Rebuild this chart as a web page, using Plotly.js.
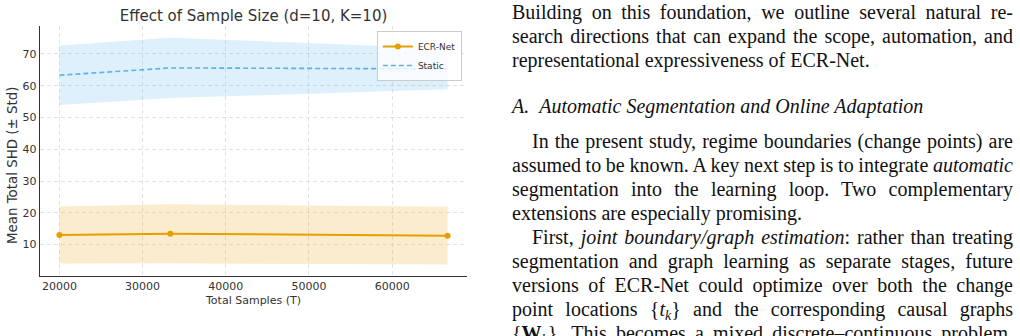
<!DOCTYPE html>
<html>
<head>
<meta charset="utf-8">
<script src="https://cdn.plot.ly/plotly-3.0.1.min.js"></script>
<style>
  html, body { margin: 0; padding: 0; background: #ffffff; }
  body { width: 1020px; height: 336px; position: relative; overflow: hidden; }
  #chart { position: absolute; left: 0; top: 0; width: 480px; height: 336px; }
  .txt { position: absolute; left: 512px; width: 501px; font-family: "Liberation Serif", "Times New Roman", serif;
         font-size: 20px; line-height: 24px; color: #111; white-space: normal; }
  .j { text-align: justify; text-align-last: justify; }
  .ind { text-indent: 20px; }
  .h { font-style: italic; }
  sub { font-size: 14px; line-height: 0; vertical-align: -4px; }
</style>
</head>
<body>
<div id="chart"></div>

<div class="txt j" style="top:0px">Building on this foundation, we outline several natural re-</div>
<div class="txt j" style="top:24px">search directions that can expand the scope, automation, and</div>
<div class="txt" style="top:48px">representational expressiveness of ECR-Net.</div>
<div class="txt h" style="top:94px">A.&ensp;Automatic Segmentation and Online Adaptation</div>
<div class="txt j ind" style="top:128.5px">In the present study, regime boundaries (change points) are</div>
<div class="txt j" style="top:152.5px; word-spacing:-1.5px">assumed to be known. A key next step is to integrate <i>automatic</i></div>
<div class="txt j" style="top:176.5px">segmentation into the learning loop. Two complementary</div>
<div class="txt" style="top:200.5px">extensions are especially promising.</div>
<div class="txt j ind" style="top:224.5px">First, <i>joint boundary/graph estimation</i>: rather than treating</div>
<div class="txt j" style="top:248.5px">segmentation and graph learning as separate stages, future</div>
<div class="txt j" style="top:272.5px">versions of ECR-Net could optimize over both the change</div>
<div class="txt j" style="top:296.5px">point locations {<i>t</i><sub><i>k</i></sub>} and the corresponding causal graphs</div>
<div class="txt j" style="top:320.5px">{<b>W</b><sub><i>k</i></sub>}. This becomes a mixed discrete–continuous problem,</div>

<script>
// ---- data ----
const xSamples   = [20000, 33333, 66667];
const ecrMean    = [13.0, 13.4, 12.8];
const ecrStd     = [9.0, 9.3, 9.1];
const staticMean = [63.3, 65.6, 65.3];
const staticStd  = [9.4, 9.5, 6.4];
const xTickVals  = [20000, 30000, 40000, 50000, 60000];
const yTickVals  = [10, 20, 30, 40, 50, 60, 70];
const seriesNames = ["ECR-Net", "Static"];

const ORANGE = "#E69F00";
const BLUE = "#56B4E9";

const add = (m, s, sign) => m.map((v, i) => v + sign * s[i]);

const traces = [
  { x: xSamples, y: add(staticMean, staticStd, -1), mode: "lines", line: { width: 0, color: BLUE },
    showlegend: false, hoverinfo: "skip" },
  { x: xSamples, y: add(staticMean, staticStd, 1), mode: "lines", line: { width: 0, color: BLUE },
    fill: "tonexty", fillcolor: "rgba(86,180,233,0.2)", showlegend: false, hoverinfo: "skip" },
  { x: xSamples, y: add(ecrMean, ecrStd, -1), mode: "lines", line: { width: 0, color: ORANGE },
    showlegend: false, hoverinfo: "skip" },
  { x: xSamples, y: add(ecrMean, ecrStd, 1), mode: "lines", line: { width: 0, color: ORANGE },
    fill: "tonexty", fillcolor: "rgba(230,159,0,0.2)", showlegend: false, hoverinfo: "skip" },
  { x: xSamples, y: ecrMean, name: seriesNames[0], mode: "lines+markers",
    line: { color: ORANGE, width: 2 }, marker: { color: ORANGE, size: 6 } },
  { x: xSamples, y: staticMean, name: seriesNames[1], mode: "lines",
    line: { color: BLUE, width: 1.6, dash: "5px,3px" } }
];

const FONT = "DejaVu Sans, sans-serif";
const layout = {
  width: 480, height: 336,
  margin: { l: 40, r: 12.5, t: 26, b: 60, pad: 0 },
  paper_bgcolor: "#ffffff", plot_bgcolor: "#ffffff",
  font: { family: FONT, color: "#333333", size: 11 },
  title: { text: "Effect of Sample Size (d=10, K=10)", x: 0.5, xref: "paper", xanchor: "center",
           y: 1 - 16 / 336, yref: "container", yanchor: "middle",
           font: { family: FONT, size: 15, color: "#333333" } },
  xaxis: {
    range: [17667, 69000], tickvals: xTickVals, ticktext: xTickVals.map(String),
    showline: true, linecolor: "#333333", linewidth: 1.2, mirror: false,
    showgrid: true, gridcolor: "#dcdcdc", gridwidth: 0.8, griddash: "4px,3px",
    zeroline: false, ticks: "", tickfont: { size: 11, color: "#333333" },
    title: { text: "Total Samples (T)", standoff: 3, font: { size: 11, color: "#333333" } }
  },
  yaxis: {
    range: [0.1, 78.8], tickvals: yTickVals, ticktext: yTickVals.map(String),
    showline: true, linecolor: "#333333", linewidth: 1.2, mirror: false,
    showgrid: true, gridcolor: "#dcdcdc", gridwidth: 0.8, griddash: "4px,3px",
    zeroline: false, ticks: "", tickfont: { size: 11, color: "#333333" }
  },
  annotations: [
    { text: "Mean Total SHD (± Std)", textangle: -90, xref: "paper", yref: "paper",
      x: (12 - 40) / 427.5, y: (276 - 165) / 250, xanchor: "center", yanchor: "middle",
      showarrow: false, font: { family: FONT, size: 13.4, color: "#333333" } }
  ],
  legend: {
    x: 0.988, y: 0.98, xanchor: "right", yanchor: "top", traceorder: "normal",
    bgcolor: "rgba(255,255,255,0.8)", bordercolor: "#cccccc", borderwidth: 1,
    font: { family: FONT, size: 9, color: "#333333" }
  },
  showlegend: true
};

Plotly.newPlot("chart", traces, layout, { staticPlot: true, displayModeBar: false });
</script>
</body>
</html>
